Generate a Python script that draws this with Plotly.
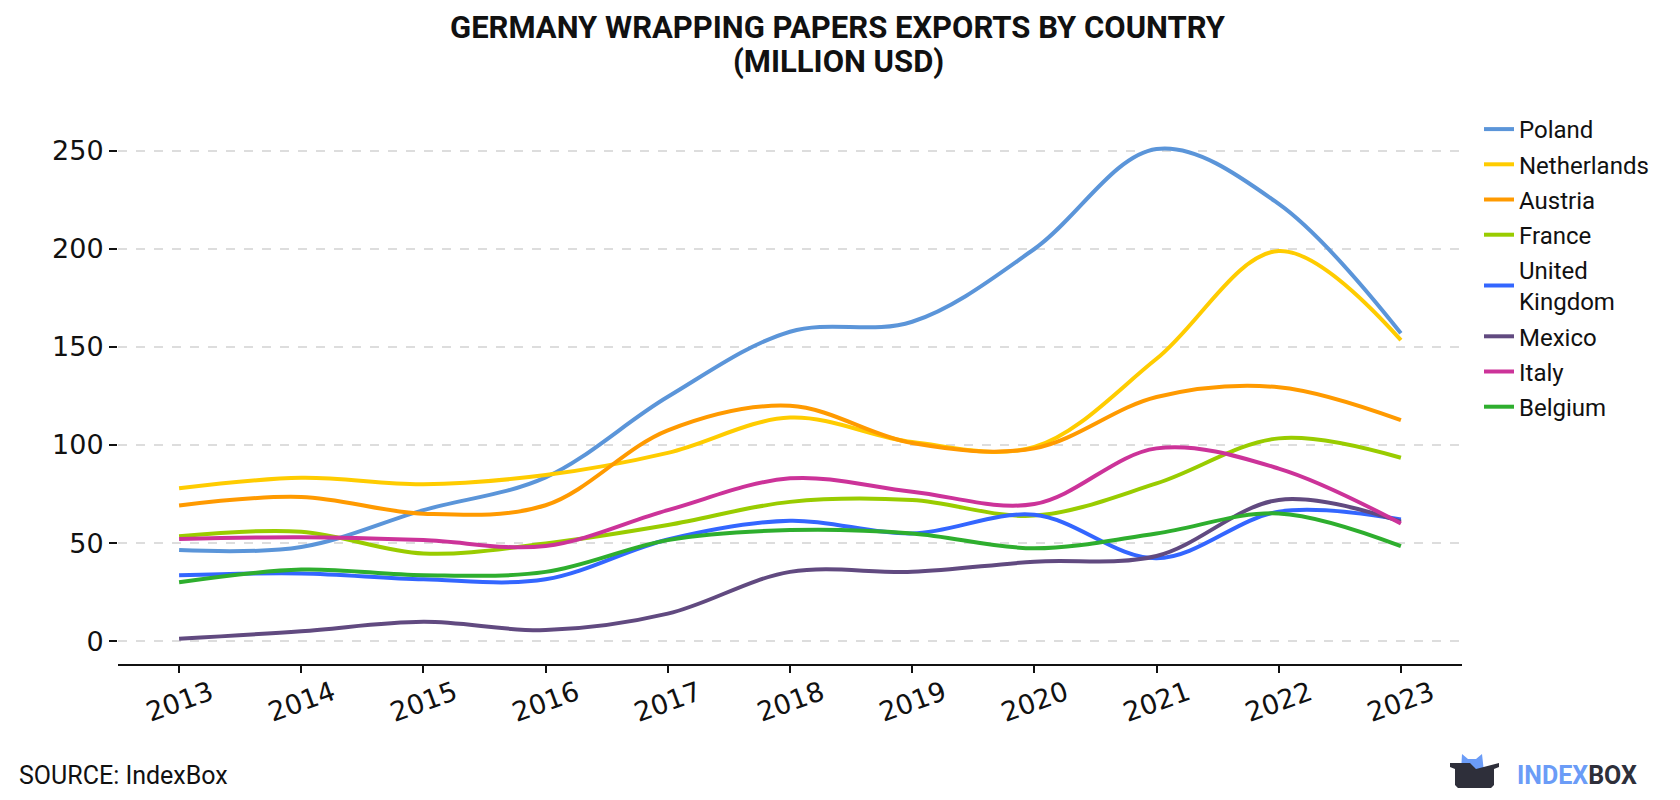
import plotly.graph_objects as go

years = [2013, 2014, 2015, 2016, 2017, 2018, 2019, 2020, 2021, 2022, 2023]
year_labels = [str(y) for y in years]

countries = ["Poland", "Netherlands", "Austria", "France", "United Kingdom", "Mexico", "Italy", "Belgium"]
legend_names = ["Poland", "Netherlands", "Austria", "France", "United<br>Kingdom", "Mexico", "Italy", "Belgium"]
colors = ["#5b95d9", "#ffcc00", "#ff9a00", "#99cc00", "#3366ff", "#614a80", "#cc3399", "#2eae2e"]

poland = [46.4, 48.0, 66.8, 83.5, 124.6, 157.8, 162.9, 200.0, 251.0, 223.0, 157.0]
netherlands = [77.9, 83.3, 80.0, 84.7, 96.0, 114.0, 101.5, 99.0, 144.0, 199.0, 153.5]
austria = [69.2, 73.5, 65.0, 69.3, 107.5, 120.0, 101.0, 98.3, 124.5, 129.5, 112.7]
france = [53.5, 55.8, 44.7, 49.8, 59.2, 71.0, 71.9, 64.0, 80.4, 103.4, 93.5]
united_kingdom = [33.6, 34.5, 31.5, 31.5, 51.8, 61.4, 54.9, 64.4, 42.2, 66.0, 62.0]
mexico = [1.2, 5.0, 9.8, 5.6, 14.0, 35.3, 35.3, 40.5, 43.4, 72.0, 60.9]
italy = [52.1, 53.0, 51.5, 48.5, 66.8, 83.0, 76.2, 69.9, 98.3, 88.0, 60.0]
belgium = [30.0, 36.5, 33.6, 35.3, 51.5, 56.6, 54.9, 47.3, 54.9, 65.1, 48.4]

series = [poland, netherlands, austria, france, united_kingdom, mexico, italy, belgium]

y_ticks = [0, 50, 100, 150, 200, 250]

title_lines = ["GERMANY WRAPPING PAPERS EXPORTS BY COUNTRY", "(MILLION USD)"]

W, H = 1680, 800
L, R, T, B = 118, 218, 121, 136
PW, PH = W - L - R, H - T - B


def px(x):
    return (x - L) / PW


def py(y):
    return (H - B - y) / PH


fig = go.Figure()
for name, lname, col, vals in zip(countries, legend_names, colors, series):
    fig.add_trace(go.Scatter(
        x=years, y=vals, name=lname, mode="lines",
        line=dict(color=col, width=4, shape="spline", smoothing=1.0),
        legendgroup=name,
        hovertemplate=name + ": %{y}<extra></extra>",
    ))

fig.update_layout(
    width=W, height=H,
    margin=dict(l=L, r=R, t=T, b=B, autoexpand=False),
    paper_bgcolor="white", plot_bgcolor="white",
    font=dict(family="Roboto", color="#111111"),
    legend=dict(
        x=px(1479), xanchor="left", y=py(107), yanchor="top",
        font=dict(family="Roboto", size=24, color="#111111"),
        tracegroupgap=1, bgcolor="rgba(0,0,0,0)",
    ),
    showlegend=True,
)

# title, two lines
for line, yc in zip(title_lines, [27, 62]):
    fig.add_annotation(
        text="<b>" + line + "</b>",
        xref="paper", yref="paper", x=px(838), y=py(yc),
        xanchor="center", yanchor="middle", showarrow=False,
        font=dict(family="Roboto", size=31, color="#111111"),
    )

fig.update_xaxes(
    range=[2012.5, 2023.5],
    tickvals=years, showticklabels=False,
    showgrid=False, zeroline=False,
    showline=True, linecolor="#111111", linewidth=2,
    ticks="outside", ticklen=7, tickwidth=2, tickcolor="#111111",
)
fig.update_yaxes(
    range=[-11.7, 265.3],
    tickvals=y_ticks,
    showgrid=True, gridcolor="#dddddd", gridwidth=2, griddash="dash",
    zeroline=False, showline=False,
    ticks="outside", ticklen=8, tickwidth=2, tickcolor="#111111",
    tickfont=dict(family="DejaVu Sans", size=27, color="#111111"),
)

# rotated x tick labels, centred on their ticks
for yr, lab in zip(years, year_labels):
    fig.add_annotation(
        text=lab, xref="x", yref="paper", x=yr, y=py(701),
        xanchor="center", yanchor="middle", textangle=-20, showarrow=False,
        font=dict(family="DejaVu Sans", size=27, color="#111111"),
    )

# source
fig.add_annotation(
    text="SOURCE: IndexBox", xref="paper", yref="paper",
    x=px(17), y=py(775), xanchor="left", yanchor="middle",
    showarrow=False, font=dict(family="Roboto", size=25, color="#111111"),
)

# logo text
fig.add_annotation(
    text="<b><span style='color:#6b9cf7'>INDEX</span><span style='color:#2e2f3a'>BOX</span></b>",
    xref="paper", yref="paper", x=px(1515), y=py(775),
    xanchor="left", yanchor="middle", showarrow=False,
    font=dict(family="Roboto", size=25),
)


def path(points):
    return "M " + " L ".join(f"{px(a)} {py(b)}" for a, b in points) + " Z"


# logo icon: blue ears
fig.add_shape(type="path", xref="paper", yref="paper",
              path=path([(1461, 772), (1462, 754), (1468, 759), (1476, 759), (1482, 754), (1484, 772)]),
              fillcolor="#6b9cf7", line=dict(width=0))
# dark tray
fig.add_shape(type="path", xref="paper", yref="paper",
              path=path([(1450, 763), (1470, 763), (1476, 769), (1499, 763), (1499, 767), (1494, 769),
                         (1494, 785), (1491, 788), (1458, 788), (1455, 785), (1455, 769), (1450, 767)]),
              fillcolor="#2e2f3a", line=dict(width=0))

fig.write_html("out.html", config={"displayModeBar": False},
               post_script="document.body.style.margin='0';")
